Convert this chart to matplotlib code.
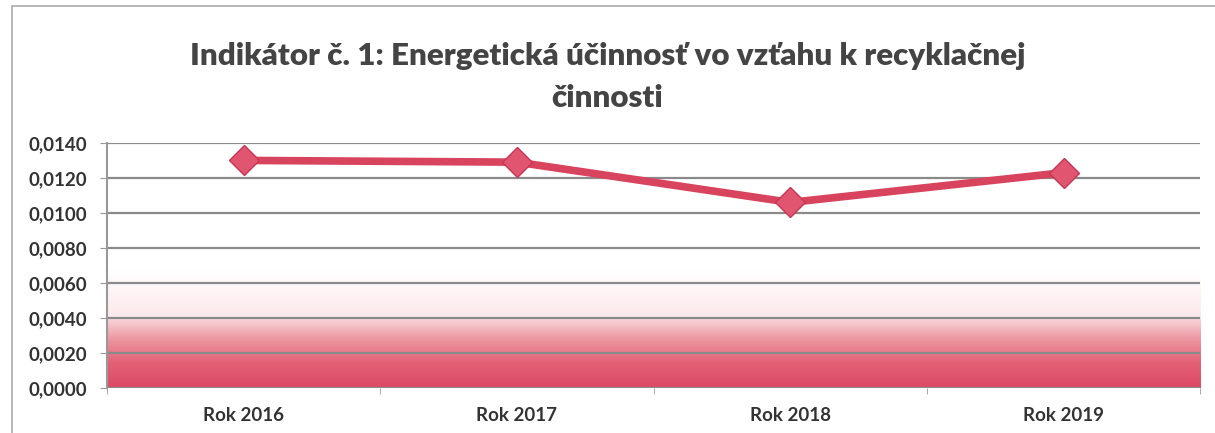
import numpy as np
import matplotlib.pyplot as plt
from matplotlib.colors import LinearSegmentedColormap
from matplotlib.patches import Rectangle

# data
years = ["Rok 2016", "Rok 2017", "Rok 2018", "Rok 2019"]
values = [0.0130, 0.0129, 0.0106, 0.0123]
yticks = [0.0, 0.002, 0.004, 0.006, 0.008, 0.010, 0.012, 0.014]

font = ["Lato", "DejaVu Sans"]

fig = plt.figure(figsize=(12.15, 4.33), dpi=100)
ax = fig.add_axes([0.088, 0.104, 0.900, 0.566])

# background gradient: white on top, red-pink at the bottom
cmap = LinearSegmentedColormap.from_list("bg", [
    (0.0, (0.87, 0.29, 0.40)),
    (0.10, (0.89, 0.38, 0.46)),
    (0.20, (0.93, 0.60, 0.64)),
    (0.275, (0.97, 0.82, 0.84)),
    (0.285, (0.99, 0.91, 0.92)),
    (0.40, (1.0, 0.96, 0.965)),
    (0.48, (1.0, 1.0, 1.0)),
    (1.0, (1.0, 1.0, 1.0)),
])
grad = np.linspace(0, 1, 400).reshape(-1, 1)
ax.imshow(grad, cmap=cmap, aspect="auto", origin="lower",
          extent=[-0.5, 3.5, 0, 0.014], zorder=0)

for t in yticks:
    ax.axhline(t, color="#8a8a8a", lw=1.6, zorder=1)

x = np.arange(len(years))
ax.plot(x, values, color="#d8435e", lw=5.5, marker="D", markersize=15,
        markerfacecolor="#e05570", markeredgecolor="#c93552", zorder=3)

ax.set_xlim(-0.5, 3.5)
ax.set_ylim(0, 0.014)
ax.set_yticks(yticks)
ax.set_yticklabels([f"{t:.4f}".replace(".", ",") for t in yticks],
                   fontsize=13.5, fontweight="bold", color="#333333", family=font)
ax.set_xticks(x)
ax.set_xticklabels(years, fontsize=13.5, fontweight="bold", color="#333333", family=font)
ax.set_xticks(np.arange(-0.5, 4, 1), minor=True)
ax.tick_params(axis="x", which="major", length=0, pad=14)
ax.tick_params(axis="x", which="minor", length=4, color="#999999")
ax.tick_params(axis="y", length=5, color="#999999", pad=9)

for s in ["top", "right", "bottom"]:
    ax.spines[s].set_visible(False)
ax.spines["left"].set_color("#999999")
ax.spines["left"].set_linewidth(1.5)

fig.text(0.5, 0.822, "Indikátor č. 1: Energetická účinnosť vo vzťahu k recyklačnej\nčinnosti",
         ha="center", va="center", fontsize=22.5, fontweight="heavy", color="#444444",
         family=font, linespacing=1.6)

fig.patches.append(Rectangle((0.010, -0.02), 1.2, 1.005, transform=fig.transFigure,
                             fill=False, edgecolor="#aaaaaa", lw=1.2))

fig.savefig("out.png", dpi=100)
